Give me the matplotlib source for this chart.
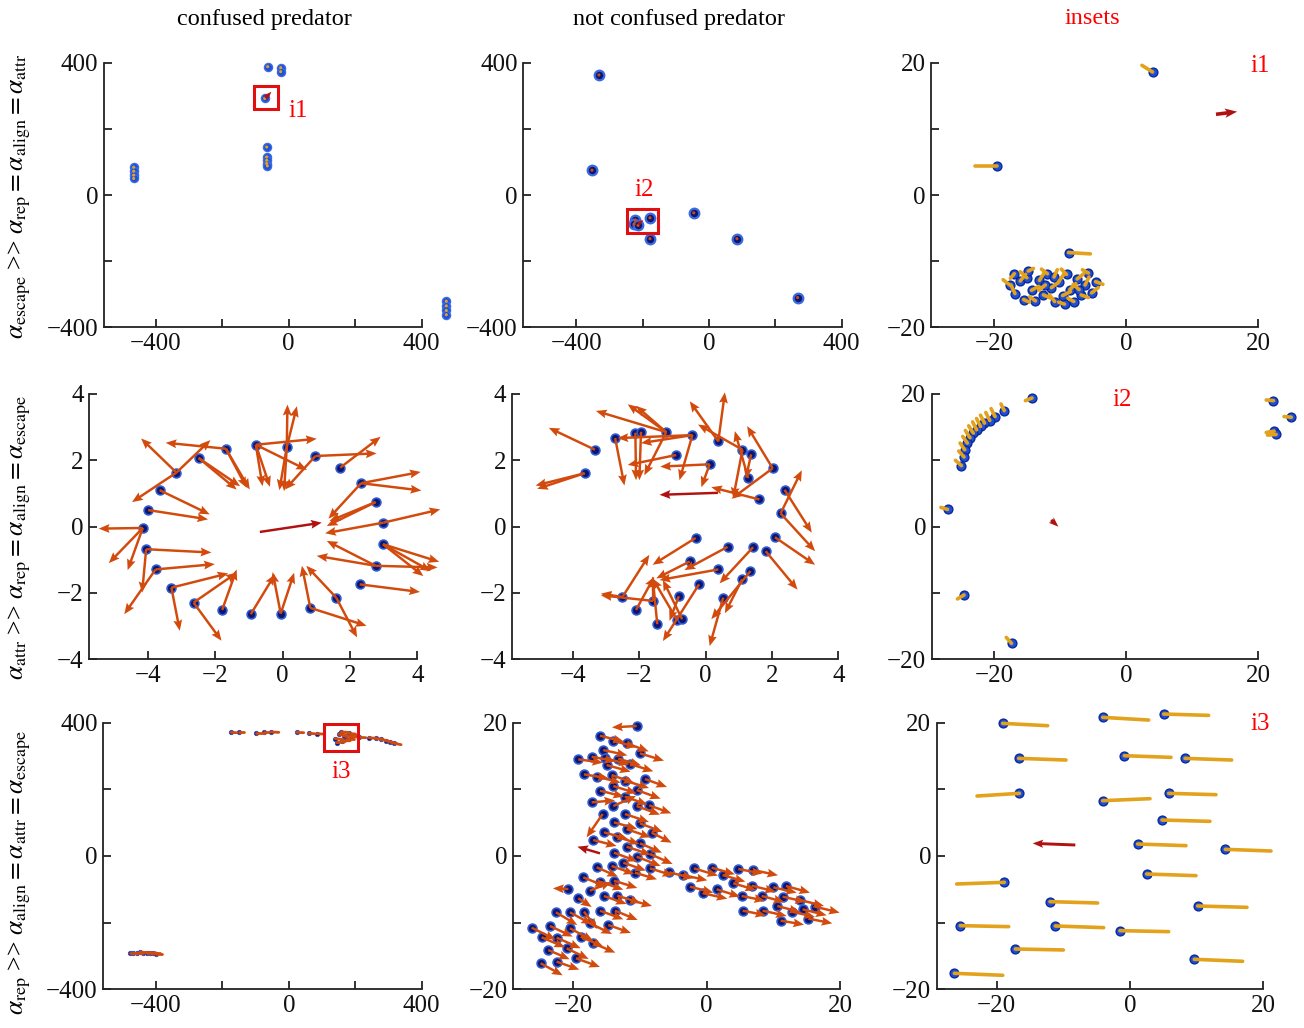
import numpy as np
import matplotlib.pyplot as plt
from matplotlib.patches import Rectangle
from matplotlib.collections import LineCollection

plt.rcParams['font.family'] = ['Liberation Serif', 'DejaVu Serif']
plt.rcParams['mathtext.fontset'] = 'stix'

BLUE = '#1d4fd8'
NAVY = '#0c1670'
EDGE = '#2f5ad0'
ORANGE = '#d24a0c'
GOLD = '#e3a21c'
PRED = '#b01212'
RED = '#ff0000'

col_titles = ['confused predator', 'not confused predator', 'insets']
row_labels = [
    r'$\alpha_{\mathrm{escape}}$ >> $\alpha_{\mathrm{rep}} = \alpha_{\mathrm{align}} = \alpha_{\mathrm{attr}}$',
    r'$\alpha_{\mathrm{attr}}$ >> $\alpha_{\mathrm{rep}} = \alpha_{\mathrm{align}} = \alpha_{\mathrm{escape}}$',
    r'$\alpha_{\mathrm{rep}}$ >> $\alpha_{\mathrm{align}} = \alpha_{\mathrm{attr}} = \alpha_{\mathrm{escape}}$',
]

# ---- row 1: escape dominated ----
esc_conf_dots = [(-466, 84), (-466, 72), (-466, 60), (-466, 50), (-63, 388), (-24, 385), (-24, 373),
                 (-72, 292), (-66, 145), (-66, 115), (-66, 105), (-66, 95), (-64, 88),
                 (474, -321), (474, -335), (474, -349), (474, -362)]
esc_conf_pred = [(-70, 293, -52, 312)]
esc_conf_box = (-105, 259, 72, 70)

esc_free_dots = [(-332, 363), (-353, 75), (-222, -76), (-226, -88), (-214, -92), (-178, -69),
                 (-178, -132), (-46, -54), (84, -132), (267, -310)]
esc_free_pred = [(-214, -88, -198, -76)]
esc_free_box = (-248, -115, 95, 73)

# inset i1: agent position -> trailing heading segment end
i1_trails = [(4.0, 18.6, 2.4, 19.6), (-19.5, 4.4, -22.8, 4.4), (-8.7, -8.7, -5.4, -8.9),
             (-17.6, -13.6, -18.6, -12.8), (-16.8, -14.9, -17.4, -13.6), (-16.0, -13.0, -15.2, -12.0),
             (-15.5, -15.8, -14.6, -16.2), (-15.0, -12.5, -16.0, -11.6), (-14.3, -14.4, -13.2, -13.8),
             (-13.7, -16.0, -14.6, -15.4), (-13.1, -12.9, -12.4, -11.8), (-12.5, -15.1, -11.4, -15.6),
             (-11.9, -11.9, -12.8, -11.2), (-11.3, -14.0, -10.2, -13.2), (-10.8, -16.1, -11.6, -15.1),
             (-10.2, -13.1, -9.4, -12.0), (-9.6, -15.2, -8.4, -14.6), (-9.0, -12.0, -9.8, -11.2),
             (-8.5, -14.3, -7.6, -13.4), (-7.9, -16.1, -8.8, -15.6), (-7.4, -12.7, -6.4, -11.9),
             (-6.8, -15.1, -5.7, -15.5), (-6.2, -13.6, -5.6, -12.4), (-5.7, -11.8, -6.6, -11.3),
             (-5.2, -14.8, -4.2, -14.0), (-4.6, -13.1, -3.5, -13.5), (-12.2, -13.6, -13.2, -14.4),
             (-14.8, -11.5, -14.0, -11.1), (-9.3, -16.5, -10.2, -16.2), (-16.9, -11.9, -17.5, -12.6),
             (-10.9, -12.4, -10.4, -11.3), (-7.1, -14.3, -8.0, -13.5)]
i1_pred = [(13.6, 12.2, 16.8, 12.6)]

# ---- row 2: attraction dominated (tail x, tail y, head x, head y) ----
attr_conf_arrows = [
    (-0.80, 2.47, 1.01, 2.65), (-0.80, 2.47, -0.38, 1.20), (-0.80, 2.47, -0.60, 1.22),
    (-0.80, 2.47, 0.72, 1.71), (0.12, 2.40, 0.14, 3.68), (0.12, 2.40, 0.42, 3.63),
    (0.12, 2.40, -0.10, 1.10), (0.12, 2.40, 0.04, 1.07), (0.97, 2.13, 2.79, 2.21),
    (0.97, 2.13, 0.07, 1.12), (1.71, 1.78, 2.91, 2.71), (2.33, 1.31, 4.10, 1.65),
    (2.33, 1.31, 4.12, 1.09), (2.33, 1.31, 1.36, 0.24), (2.76, 0.74, 1.31, 0.02),
    (2.76, 0.74, 1.39, 0.17), (2.99, 0.12, 4.68, 0.52), (2.99, 0.12, 1.26, -0.20),
    (2.98, -0.53, 4.65, -1.06), (2.98, -0.53, 4.40, -1.34), (2.98, -0.53, 4.18, -1.49),
    (2.76, -1.18, 1.31, -0.43), (2.76, -1.18, 1.01, -0.88), (2.76, -1.18, 4.60, -1.23),
    (2.29, -1.74, 4.08, -1.97), (1.59, -2.14, 0.70, -1.18), (1.59, -2.14, 2.21, -3.34),
    (0.82, -2.45, 2.49, -2.99), (0.82, -2.45, 0.57, -1.18), (-0.06, -2.62, 0.34, -1.39),
    (-0.06, -2.62, -0.30, -1.37), (-0.95, -2.64, -0.23, -1.44), (-1.80, -2.51, -1.37, -1.29),
    (-2.65, -2.29, -1.37, -1.39), (-2.65, -2.29, -1.82, -3.44), (-3.31, -1.84, -3.06, -3.14),
    (-3.31, -1.84, -1.62, -1.41), (-3.78, -1.29, -2.02, -1.13), (-3.78, -1.29, -4.71, -2.64),
    (-4.06, -0.68, -2.12, -0.78), (-4.06, -0.68, -4.18, -1.99), (-4.16, -0.04, -5.47, -0.06),
    (-4.16, -0.04, -5.17, -1.10), (-4.16, -0.04, -4.61, -1.31), (-4.00, 0.50, -2.22, 0.22),
    (-3.66, 1.10, -2.17, 0.37), (-3.16, 1.63, -4.21, 2.66), (-3.16, 1.63, -2.15, 2.61),
    (-3.16, 1.63, -4.48, 0.74), (-2.50, 2.07, -1.37, 1.12), (-2.50, 2.07, -1.27, 1.22),
    (-1.69, 2.35, -3.48, 2.53), (-1.69, 2.35, -1.07, 1.17), (-1.69, 2.35, -0.98, 1.12)]
attr_conf_pred = [(-0.68, -0.16, 1.16, 0.12)]

attr_free_arrows = [
    (-3.34, 2.32, -4.73, 2.98), (-3.65, 1.61, -5.08, 1.14), (-3.65, 1.61, -5.13, 1.24),
    (-2.73, 2.67, -2.45, 1.24), (-0.40, 2.76, -2.66, 2.67), (-2.12, 2.83, -2.10, 1.40),
    (-1.95, 2.86, -2.00, 1.40), (-1.19, 2.85, -3.31, 3.49), (-1.19, 2.85, -2.35, 3.69),
    (-1.19, 2.85, -1.85, 1.55), (-1.19, 2.85, -2.10, 3.64), (-0.40, 2.76, -0.79, 1.40),
    (-0.40, 2.76, -1.95, 2.52), (-0.89, 2.16, -2.35, 1.86), (0.12, 1.88, -1.37, 1.81),
    (0.12, 1.88, -0.13, 1.19), (0.38, 2.57, 0.58, 4.05), (0.38, 2.57, -0.48, 3.78),
    (1.11, 2.32, -0.23, 3.08), (1.11, 2.32, 0.83, 0.86), (1.37, 2.18, 1.21, 1.45),
    (2.02, 1.76, 1.25, 3.03), (2.02, 1.76, 0.78, 0.84), (1.28, 1.47, 0.88, 2.88),
    (1.62, 0.82, 0.17, 1.19), (2.38, 1.11, 3.20, -0.18), (2.26, 0.40, 2.90, 1.70),
    (2.26, 0.40, 3.30, -0.74), (2.09, -0.32, 3.30, -1.15), (1.81, -0.74, 2.77, -1.90),
    (1.43, -0.62, 0.42, -1.71), (0.66, -0.61, -0.64, -1.31), (-0.30, -0.34, -1.60, -1.15),
    (-0.48, -1.05, -1.49, -1.56), (0.38, -1.29, -1.39, -1.61), (-0.20, -1.74, -1.29, -3.45),
    (1.35, -1.34, 0.17, -2.79), (1.10, -1.59, 0.58, -2.61), (0.53, -2.14, 0.12, -3.60),
    (-0.81, -2.10, -1.09, -2.84), (-2.51, -2.12, -1.70, -0.85), (-2.51, -2.12, -3.16, -2.02),
    (-2.10, -2.51, -1.55, -1.51), (-1.58, -2.24, -3.16, -2.07), (-1.46, -2.94, -1.60, -1.51),
    (-0.86, -2.82, -1.60, -1.56), (-0.71, -2.79, -1.29, -1.61), (-1.58, -2.24, -1.60, -1.51)]
attr_free_pred = [(0.37, 1.02, -1.39, 0.96)]

# inset i2
i2_trails = [(-14.3, 19.4, -15.3, 19.0), (-18.5, 17.5, -19.0, 18.5), (-19.9, 16.6, -20.5, 17.8),
             (-20.7, 16.0, -21.3, 17.2), (-21.5, 15.6, -22.1, 16.8), (-22.1, 15.1, -22.7, 16.3),
             (-22.7, 14.6, -23.3, 15.8), (-23.2, 14.1, -23.9, 15.2), (-23.7, 13.4, -24.4, 14.5),
             (-24.1, 12.6, -24.8, 13.6), (-24.5, 11.6, -25.2, 12.6), (-24.6, 10.5, -25.4, 11.4),
             (-25.0, 9.2, -25.9, 10.0), (-27.1, 2.6, -28.1, 2.9), (-24.6, -10.3, -25.6, -10.9),
             (-17.4, -17.6, -18.2, -16.7), (22.3, 19.0, 21.2, 19.1), (25.0, 16.5, 23.9, 16.6),
             (22.4, 14.4, 21.2, 14.2), (22.7, 13.9, 21.4, 13.8)]
i2_pred = [(-11.4, 1.0, -10.3, 0.0)]

# ---- row 3: repulsion dominated ----
rep_conf_trails = [(-173, 371, -158, 370), (-150, 371, -135, 371), (-98, 370, -75, 370),
                   (-75, 371, -60, 371), (-52, 372, -30, 371), (24, 371, 45, 370), (60, 368, 78, 367),
                   (84, 367, 102, 366), (140, 352, 162, 350), (150, 365, 172, 364), (158, 372, 180, 371),
                   (165, 360, 190, 358), (172, 350, 195, 350), (180, 368, 200, 366), (188, 358, 205, 357),
                   (195, 363, 210, 362), (145, 340, 168, 342), (160, 345, 185, 346), (212, 356, 232, 355),
                   (242, 355, 262, 353), (262, 353, 282, 350), (277, 350, 297, 346), (292, 346, 312, 341),
                   (305, 342, 325, 337), (318, 338, 338, 334), (-478, -292, -458, -292),
                   (-468, -290, -448, -290), (-458, -291, -438, -291), (-448, -289, -428, -290),
                   (-438, -290, -418, -291), (-428, -291, -408, -291), (-418, -290, -398, -291),
                   (-408, -292, -388, -292), (-398, -293, -380, -293)]
rep_conf_box = (107, 315, 102, 81)

# x, y, heading dx, heading dy
rep_free = [
    (-10.5, 19.5, -3.7, -0.2), (-16.0, 18.05, 3.6, -0.9), (-14.0, 17.3, 3.5, -1.0), (-12.0, 16.9, 3.3, -1.2),
    (-15.5, 15.9, 3.6, -0.8), (-10.0, 15.4, 3.6, -1.1), (-19.25, 14.5, 3.7, -0.5), (-17.25, 14.9, 3.6, -0.7),
    (-15.25, 14.65, 3.7, -0.9), (-13.25, 14.6, 3.4, -1.0), (-11.5, 13.8, 3.5, -1.1), (-15.0, 13.65, 3.6, -1.0),
    (-18.4, 12.25, 3.7, -0.6), (-16.4, 11.9, 3.5, -0.9), (-14.25, 12.15, 3.4, -1.2), (-12.25, 11.3, 3.6, -1.1),
    (-9.25, 11.55, 3.3, -1.2), (-16.0, 9.8, 3.6, -0.9), (-14.0, 10.5, 3.5, -1.1), (-12.25, 8.9, 3.4, -1.2),
    (-10.5, 9.9, 3.6, -1.3), (-17.25, 8.05, 3.5, 0.3), (-14.0, 7.5, 3.4, 1.5), (-10.5, 7.5, 3.5, -1.3),
    (-8.6, 7.6, 3.3, -1.2), (-15.6, 6.3, -2.4, -3.5), (-12.25, 6.3, 3.6, -1.2), (-13.9, 5.05, 3.5, -1.0),
    (-10.0, 4.9, 3.4, -1.3), (-8.25, 3.5, 3.0, -1.5), (-15.4, 3.55, 3.6, -1.0), (-13.5, 2.9, 3.4, -1.1),
    (-11.9, 4.0, 3.5, -1.2), (-17.0, 2.4, 3.5, -0.9), (-10.0, 1.9, 3.3, -1.4), (-12.0, 1.4, 3.6, -1.2),
    (-13.9, 0.5, 3.5, -1.3), (-8.5, 0.3, 3.4, -1.5), (-10.5, -0.1, 3.6, -1.4), (-12.5, -1.0, 3.4, -1.2),
    (-8.5, -1.85, 3.5, -1.1), (-10.75, -2.5, 3.3, -1.0), (-14.25, -1.5, 3.4, -1.2), (-16.5, -1.7, 3.2, -1.4),
    (-5.6, -2.45, 3.6, -0.9), (-3.6, -2.85, 3.7, -0.8),
    (-18.5, -3.2, 3.4, -1.4), (-16.0, -3.85, 3.5, -1.2), (-13.9, -3.7, 3.5, -1.1), (-17.5, -5.2, 3.2, 1.3),
    (-20.75, -4.95, -2.3, 0.1), (-19.25, -6.35, 2.0, -1.3), (-15.4, -6.0, 3.4, -1.2), (-13.4, -5.95, 3.5, -1.1),
    (-11.5, -6.6, 3.3, -0.9), (-22.6, -8.45, 3.2, -1.9), (-20.5, -8.45, 3.3, -1.8), (-18.4, -8.35, 2.0, -2.6),
    (-16.0, -8.2, 3.5, -1.3), (-13.75, -8.2, 3.4, -1.4), (-26.25, -10.75, 3.6, -1.8), (-23.5, -10.5, 3.4, -1.6),
    (-20.5, -10.85, 3.5, -1.9), (-17.5, -10.1, 3.3, -1.6), (-14.75, -10.35, 3.4, -1.2), (-24.75, -12.2, 3.5, -1.5),
    (-22.5, -12.25, 3.6, -1.6), (-18.9, -12.1, 3.4, -1.5), (-17.0, -13.1, 3.3, -1.4), (-21.0, -13.85, 3.3, -1.6),
    (-23.75, -14.1, 3.2, -1.4), (-19.6, -15.35, 3.6, -1.3), (-22.5, -15.85, 3.4, -1.2), (-24.9, -16.1, 3.3, -1.8),
    (-1.9, -1.85, 3.6, -1.1), (0.75, -1.75, 3.5, -1.0), (4.75, -1.95, 3.6, -0.7), (7.0, -2.1, 3.7, -0.8),
    (2.4, -2.85, 3.4, -1.0), (-2.5, -4.6, 3.5, -0.9), (-0.5, -5.6, 3.6, -0.8), (1.5, -5.0, 3.5, -1.1),
    (4.0, -4.1, 3.4, -1.0), (6.75, -4.45, 3.6, -0.9), (10.0, -4.7, 3.5, -0.8), (11.9, -4.5, 3.6, -1.0),
    (5.25, -6.0, 3.5, -0.7), (8.25, -6.0, 3.4, -0.9), (11.4, -6.1, 3.5, -0.8), (14.0, -6.6, 3.6, -0.9),
    (16.25, -7.6, 3.7, -0.9), (5.4, -8.2, 3.5, -0.7), (8.4, -8.2, 3.6, -0.8), (10.6, -7.5, 3.4, -0.9),
    (12.75, -8.35, 3.5, -0.8), (15.25, -9.4, 3.6, -0.7), (11.1, -9.7, 3.5, -0.6), (14.4, -8.0, 3.6, -0.9)]
rep_free_pred = [(-16.0, 0.4, -19.4, 1.4)]

# inset i3
i3_trails = [(-19.1, 19.9, -12.35, 19.55), (-4.1, 20.8, 2.8, 20.4), (5.05, 21.3, 11.8, 21.1),
             (-16.7, 14.65, -9.6, 14.4), (-0.85, 15.05, 6.15, 14.8), (8.25, 14.65, 15.25, 14.4),
             (-16.6, 9.4, -22.95, 9.0), (-4.1, 8.3, 3.0, 8.6), (5.8, 9.4, 12.9, 9.2),
             (4.8, 5.4, 12.0, 5.2), (1.15, 1.8, 8.4, 1.55), (14.3, 1.0, 21.15, 0.75),
             (2.5, -2.7, 9.9, -2.95), (-18.85, -3.95, -26.0, -4.2), (-12.0, -6.85, -4.85, -7.05),
             (10.15, -7.5, 17.55, -7.7), (-25.45, -10.45, -18.2, -10.6), (-11.2, -10.5, -3.95, -10.75),
             (-1.5, -11.2, 5.8, -11.35), (-17.2, -13.95, -10.0, -14.1), (9.65, -15.5, 16.9, -15.8),
             (-26.35, -17.6, -19.1, -17.9)]
i3_pred = [(-8.2, 1.65, -14.6, 1.9)]

W, H = 1304, 1028
fig = plt.figure(figsize=(W / 100, H / 100), dpi=100)


def panel(l, r, t, b, xlim, ylim, xt, yt, xminor=(), yminor=()):
    ax = fig.add_axes([l / W, 1 - b / H, (r - l) / W, (b - t) / H])
    ax.set_xlim(xlim)
    ax.set_ylim(ylim)
    ax.set_xticks(xt)
    ax.set_yticks(yt)
    ax.set_xticks(xminor, minor=True)
    ax.set_yticks(yminor, minor=True)
    for s in ['top', 'right']:
        ax.spines[s].set_visible(False)
    for s in ['left', 'bottom']:
        ax.spines[s].set_linewidth(1.3)
        ax.spines[s].set_color('#222222')
    ax.tick_params(which='both', direction='in', length=6, width=1.2, labelsize=18, pad=4,
                   colors='#111111')
    return ax


def arrows(ax, segs, color, width=0.0075, head=3.6):
    a = np.array(segs, dtype=float)
    ax.quiver(a[:, 0], a[:, 1], a[:, 2] - a[:, 0], a[:, 3] - a[:, 1], angles='xy', scale_units='xy',
              scale=1, color=color, width=width, headwidth=head, headlength=head + 0.8,
              headaxislength=head + 0.3, zorder=4, clip_on=False)


def trails(ax, segs, color, lw):
    a = np.array(segs, dtype=float)
    lc = LineCollection([[(s[0], s[1]), (s[2], s[3])] for s in a], colors=color, linewidths=lw,
                        capstyle='round', zorder=4, clip_on=False)
    ax.add_collection(lc)


def dots(ax, xy, face, edge, s, lw=1.2):
    a = np.array(xy, dtype=float)
    ax.scatter(a[:, 0], a[:, 1], s=s, c=face, edgecolors=edge, linewidths=lw, zorder=3, clip_on=False)


def box(ax, rect):
    ax.add_patch(Rectangle(rect[:2], rect[2], rect[3], fill=False, ec='#e01010', lw=2.2, zorder=5))


big_t = [-400, 0, 400]
big_m = [-200, 200]
in_t = [-20, 0, 20]
rows = [(62.7, 327.3), (394, 659.3), (722.7, 989.3)]

# row 1
t, b = rows[0]
ax = panel(103.7, 421.7, t, b, (-556, 400), (-400, 400), big_t, big_t, big_m, big_m)
dots(ax, esc_conf_dots, BLUE, '#3a6ae8', 34, 1.0)
dots(ax, esc_conf_dots, GOLD, 'none', 5, 0)
arrows(ax, esc_conf_pred, PRED, 0.012, 2.5)
box(ax, esc_conf_box)
ax.text(30, 255, 'i1', color=RED, fontsize=18, ha='center', va='center')

ax = panel(523.3, 841.7, t, b, (-560, 400), (-400, 400), big_t, big_t, big_m, big_m)
dots(ax, esc_free_dots, NAVY, '#3a6ae0', 48, 1.6)
dots(ax, esc_free_dots, ORANGE, 'none', 5, 0)
arrows(ax, esc_free_pred, PRED, 0.012, 2.5)
box(ax, esc_free_box)
ax.text(-196, 15, 'i2', color=RED, fontsize=18, ha='center', va='center')

ax = panel(931, 1258.3, t, b, (-29.5, 20), (-20, 20), in_t, in_t, (), [-10, 10])
dots(ax, [s[:2] for s in i1_trails], BLUE, '#0a2a9a', 40, 1.0)
trails(ax, i1_trails, GOLD, 2.6)
arrows(ax, i1_pred, PRED, 0.011, 2.6)
ax.text(20.3, 19.5, 'i1', color=RED, fontsize=18, ha='center', va='center')

# row 2
t, b = rows[1]
two = [-4, -2, 0, 2, 4]
ax = panel(89.3, 417.3, t, b, (-5.75, 4), (-4, 4), two, two)
dots(ax, sorted(set((a[0], a[1]) for a in attr_conf_arrows)), NAVY, EDGE, 40)
arrows(ax, attr_conf_arrows, ORANGE)
arrows(ax, attr_conf_pred, PRED)

ax = panel(511.7, 838.3, t, b, (-5.85, 4), (-4, 4), two, two)
dots(ax, sorted(set((a[0], a[1]) for a in attr_free_arrows)), NAVY, EDGE, 40)
arrows(ax, attr_free_arrows, ORANGE)
arrows(ax, attr_free_pred, PRED)

ax = panel(931.7, 1258.3, t, b, (-29.5, 20), (-20, 20), in_t, in_t, (), [-10, 10])
dots(ax, [s[:2] for s in i2_trails], BLUE, '#0a2a9a', 40, 1.0)
trails(ax, i2_trails, GOLD, 2.6)
arrows(ax, i2_pred, PRED, 0.012, 2.4)
ax.text(-0.6, 19.1, 'i2', color=RED, fontsize=18, ha='center', va='center')

# row 3
t, b = rows[2]
ax = panel(103.3, 421.7, t, b, (-558, 400), (-400, 400), big_t, big_t, big_m, big_m)
dots(ax, [s[:2] for s in rep_conf_trails], NAVY, '#3050c8', 10, 0.6)
trails(ax, rep_conf_trails, ORANGE, 2.0)
box(ax, rep_conf_box)
ax.text(158, 252, 'i3', color=RED, fontsize=18, ha='center', va='center')

ax = panel(513.3, 840, t, b, (-29, 20), (-20, 20), in_t, in_t, (), [-10, 10])
rf = np.array(rep_free)
dots(ax, rf[:, :2], NAVY, EDGE, 40)
arrows(ax, np.column_stack([rf[:, :2], rf[:, :2] + rf[:, 2:]]), ORANGE)
arrows(ax, rep_free_pred, PRED)

ax = panel(936.7, 1263.3, t, b, (-29, 20), (-20, 20), in_t, in_t, (), [-10, 10])
trails(ax, i3_trails, GOLD, 2.6)
dots(ax, [s[:2] for s in i3_trails], BLUE, '#0a2a9a', 40, 1.0)
arrows(ax, i3_pred, PRED, 0.009, 2.8)
ax.text(19.6, 19.8, 'i3', color=RED, fontsize=18, ha='center', va='center')

# column titles and row labels
for x, txt, c in zip([264, 679, 1092], col_titles, ['black', 'black', RED]):
    fig.text(x / W, 1 - 19 / H, txt, color=c, fontsize=17.5, ha='center', va='center')
for yc, txt in zip([196, 537, 872], row_labels):
    fig.text(20 / W, 1 - yc / H, txt, rotation=90, fontsize=18.5, ha='center', va='center')

fig.savefig('out.png', dpi=100, facecolor='white')
